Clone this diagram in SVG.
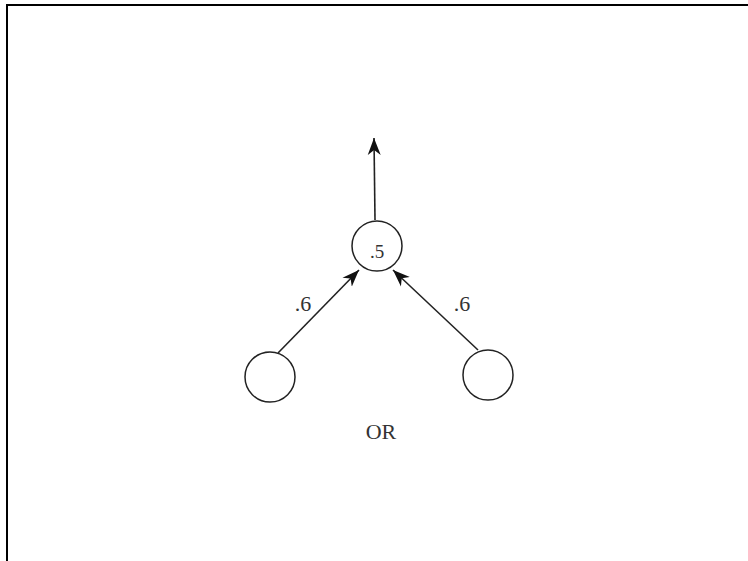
<svg xmlns="http://www.w3.org/2000/svg" width="748" height="561" viewBox="0 0 748 561">
<style>
.node{fill:#fff;stroke:#222;stroke-width:1.5}
.edge{stroke:#222;stroke-width:1.6;fill:none}
.lbl{font-family:"Liberation Serif","Times New Roman",serif;font-size:22px;fill:#333}
</style>
<defs>
<marker id="ah" markerWidth="19" markerHeight="14" refX="17" refY="7" orient="auto" markerUnits="userSpaceOnUse">
<path d="M0,0.5 L17,7 L0,13.5 L5,7 Z" fill="#111"/>
</marker>
</defs>
<rect x="0" y="0" width="748" height="561" fill="#fff"/>
<path d="M7,561 V5 H748" fill="none" stroke="#000" stroke-width="2"/>
<g id="connectors">
<line class="edge" x1="375" y1="220" x2="374" y2="138" marker-end="url(#ah)"/>
<line class="edge" x1="278" y1="353" x2="359" y2="270" marker-end="url(#ah)"/>
<line class="edge" x1="478" y1="350" x2="393" y2="270" marker-end="url(#ah)"/>
</g>
<g id="node-out">
<circle class="node" cx="377" cy="246" r="25"/>
<text class="lbl" x="377" y="258" text-anchor="middle" style="font-size:19px">.5</text>
</g>
<g id="node-left">
<circle class="node" cx="270" cy="377" r="25"/>
</g>
<g id="node-right">
<circle class="node" cx="488" cy="375" r="25"/>
</g>
<g id="labels">
<text class="lbl" x="303" y="311" text-anchor="middle">.6</text>
<text class="lbl" x="462" y="311" text-anchor="middle">.6</text>
<text class="lbl" x="381" y="439" text-anchor="middle">OR</text>
</g>
</svg>
